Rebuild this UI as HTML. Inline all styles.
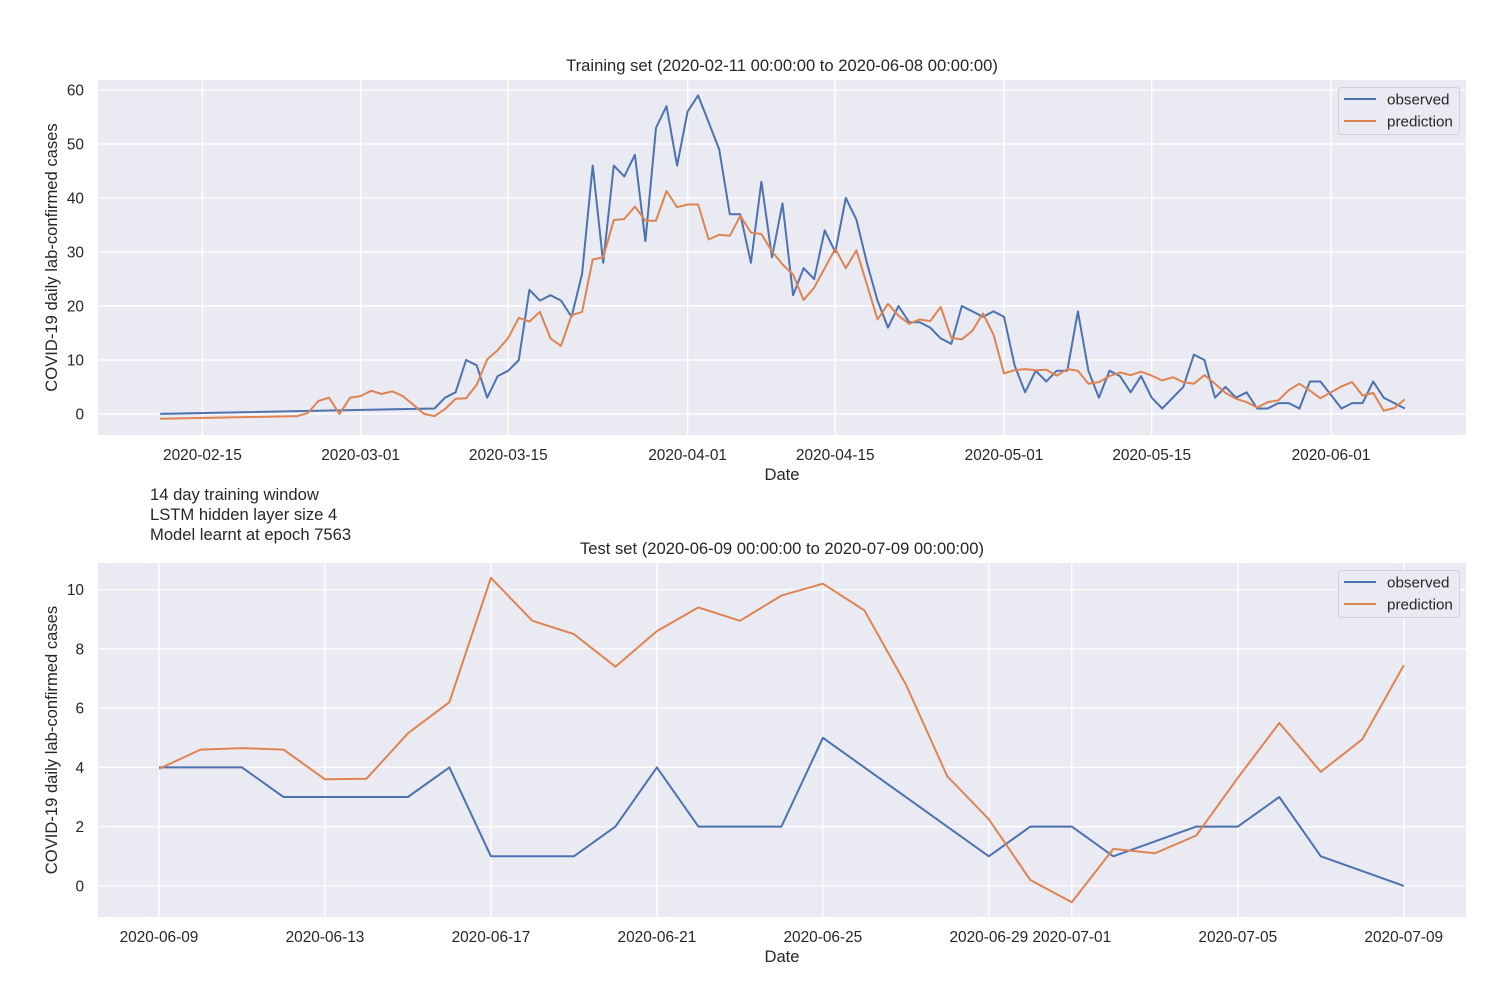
<!DOCTYPE html>
<html><head><meta charset="utf-8"><style>
body{margin:0;background:#fff;}
svg{display:block;font-family:"Liberation Sans","DejaVu Sans",sans-serif;}
</style></head><body>
<svg id="chart" width="1500" height="1000"></svg>
<script>
// ---- Training set data (day offsets from 2020-02-11) ----
const trainObsDays = [0,26,27,28,29,30,31,32,33,34,35,36,37,38,39,40,41,42,43,44,45,46,47,48,49,50,51,52,53,54,55,56,57,58,59,60,61,62,63,64,65,66,67,68,69,70,71,72,73,74,75,76,77,78,79,80,81,82,83,84,85,86,87,88,89,90,91,92,93,94,95,96,97,98,99,100,101,102,103,104,105,106,107,108,109,110,111,112,113,114,115,116,117,118];
const trainObsVals = [0,1,3,4,10,9,3,7,8,10,23,21,22,21,18,26,46,28,46,44,48,32,53,57,46,56,59,54,49,37,37,28,43,29,39,22,27,25,34,30,40,36,28,21,16,20,17,17,16,14,13,20,19,18,19,18,9,4,8,6,8,8,19,8,3,8,7,4,7,3,1,3,5,11,10,3,5,3,4,1,1,2,2,1,6,6,3.5,1,2,2,6,3,2,1];
const trainPredDays = [0,13,14,15,16,17,18,19,20,21,22,23,24,25,26,27,28,29,30,31,32,33,34,35,36,37,38,39,40,41,42,43,44,45,46,47,48,49,50,51,52,53,54,55,56,57,58,59,60,61,62,63,64,65,66,67,68,69,70,71,72,73,74,75,76,77,78,79,80,81,82,83,84,85,86,87,88,89,90,91,92,93,94,95,96,97,98,99,100,101,102,103,104,105,106,107,108,109,110,111,112,113,114,115,116,117,118];
const trainPredVals = [-0.9,-0.4,0.2,2.4,3,0,3,3.3,4.3,3.7,4.2,3.3,1.7,0,-0.4,0.9,2.8,2.9,5.4,10.1,11.8,14.1,17.8,17.1,18.9,14,12.6,18.3,18.9,28.6,29,35.9,36.1,38.4,35.8,35.8,41.3,38.3,38.8,38.8,32.3,33.2,33,36.7,33.6,33.3,30.1,27.7,25.8,21.1,23.4,27,30.6,27,30.3,24,17.5,20.4,18.2,16.7,17.5,17.2,19.8,14.1,13.8,15.4,18.6,14.7,7.5,8.1,8.3,8.1,8.2,7.1,8.3,8,5.6,5.9,7,7.7,7.2,7.8,7.1,6.2,6.8,5.9,5.6,7.2,5.6,3.9,2.8,2.2,1.2,2.2,2.5,4.4,5.6,4.3,2.9,4,5.1,5.9,3.4,3.9,0.6,1.1,2.7];
const trainXTickDays = [4,19,33,50,64,80,94,111];
const trainXTickLabels = ["2020-02-15","2020-03-01","2020-03-15","2020-04-01","2020-04-15","2020-05-01","2020-05-15","2020-06-01"];
const trainYTicks = [0,10,20,30,40,50,60];
// ---- Test set data (day offsets from 2020-06-09) ----
const testObsDays = [0,1,2,3,4,5,6,7,8,9,10,11,12,13,14,15,16,20,21,22,23,25,26,27,28,29,30];
const testObsVals = [4,4,4,3,3,3,3,4,1,1,1,2,4,2,2,2,5,1,2,2,1,2,2,3,1,0.5,0];
const testPredDays = [0,1,2,3,4,5,6,7,8,9,10,11,12,13,14,15,16,17,18,19,20,21,22,23,24,25,26,27,28,29,30];
const testPredVals = [3.95,4.6,4.65,4.6,3.6,3.62,5.15,6.2,10.4,8.95,8.5,7.4,8.6,9.4,8.95,9.8,10.2,9.3,6.8,3.7,2.25,0.2,-0.55,1.25,1.1,1.7,3.65,5.5,3.85,4.95,7.45];
const testXTickDays = [0,4,8,12,16,20,22,26,30];
const testXTickLabels = ["2020-06-09","2020-06-13","2020-06-17","2020-06-21","2020-06-25","2020-06-29","2020-07-01","2020-07-05","2020-07-09"];
const testYTicks = [0,2,4,6,8,10];

const NS="http://www.w3.org/2000/svg";
const svg=document.getElementById('chart');
function mk(tag,attrs,parent){const e=document.createElementNS(NS,tag);for(const k in attrs)e.setAttribute(k,attrs[k]);(parent||svg).appendChild(e);return e;}
function txt(s,attrs,parent){const e=mk('text',attrs,parent);e.textContent=s;return e;}

function panel(cfg){
  const g=mk('g',{});
  
  
  const {x0,x1,y0,y1,dmin,dmax,vmin,vmax}=cfg;
  const X=d=>x0+(d-dmin)/(dmax-dmin)*(x1-x0);
  const Y=v=>y1-(v-vmin)/(vmax-vmin)*(y1-y0);
  const bg=mk('rect',{x:x0,y:y0,width:x1-x0,height:y1-y0,fill:'#eaeaf2'},g);
  
  
  cfg.yTicks.forEach(v=>{
    const l=mk('line',{x1:x0,x2:x1,y1:Y(v),y2:Y(v),stroke:'#fff','stroke-width':1.3},g);
    
    
    const t=txt(String(v),{x:x0-14,y:Y(v)+5.5,'text-anchor':'end','font-size':15.4,fill:'#262626'},g);
    
    
  });
  cfg.xTickDays.forEach((d,i)=>{
    const l=mk('line',{x1:X(d),x2:X(d),y1:y0,y2:y1,stroke:'#fff','stroke-width':1.3},g);
    
    
    const t=txt(cfg.xTickLabels[i],{x:X(d),y:y1+25,'text-anchor':'middle','font-size':15.4,fill:'#262626'},g);
    
    
  });
  const series=[[cfg.obsDays,cfg.obsVals,'#4c72b0','observed-line'],[cfg.predDays,cfg.predVals,'#dd8452','prediction-line']];
  series.forEach(([ds,vs,c,n])=>{
    const p=mk('polyline',{points:ds.map((d,i)=>X(d).toFixed(1)+','+Y(vs[i]).toFixed(1)).join(' '),fill:'none',stroke:c,'stroke-width':2,'stroke-linejoin':'round'},g);
    
    
  });
  const tt=txt(cfg.title,{x:(x0+x1)/2,y:y0-9,'text-anchor':'middle','font-size':16.6,fill:'#262626'},g);
  
  
  const xl=txt('Date',{x:(x0+x1)/2,y:y1+45,'text-anchor':'middle','font-size':16.6,fill:'#262626'},g);
  
  
  const cy=(y0+y1)/2;
  const yl=txt('COVID-19 daily lab-confirmed cases',{x:57,y:cy,'text-anchor':'middle','font-size':16.6,fill:'#262626',transform:`rotate(-90 57 ${cy})`},g);
  
  
  // legend
  const lg=mk('g',{},g);
  
  
  const ly=y0+7;
  mk('rect',{x:1338.5,y:ly+0.5,width:121,height:47,rx:3,fill:'#eaeaf2',stroke:'#d0d0d8','stroke-width':1},lg);
  [['observed','#4c72b0'],['prediction','#dd8452']].forEach(([n,c],i)=>{
    const e=mk('g',{},lg);
    
    
    mk('line',{x1:1344,x2:1376,y1:ly+12+i*22,y2:ly+12+i*22,stroke:c,'stroke-width':2},e);
    txt(n,{x:1387,y:ly+17.5+i*22,'font-size':15.2,fill:'#262626'},e);
  });
}

panel({name:'training-chart',x0:98,x1:1466,y0:80,y1:435,dmin:-5.9,dmax:123.8,vmin:-3.9,vmax:61.85,
  yTicks:trainYTicks,xTickDays:trainXTickDays,xTickLabels:trainXTickLabels,
  obsDays:trainObsDays,obsVals:trainObsVals,predDays:trainPredDays,predVals:trainPredVals,
  title:'Training set (2020-02-11 00:00:00 to 2020-06-08 00:00:00)'});
panel({name:'test-chart',x0:98,x1:1466,y0:563,y1:917,dmin:-1.47,dmax:31.5,vmin:-1.05,vmax:10.9,
  yTicks:testYTicks,xTickDays:testXTickDays,xTickLabels:testXTickLabels,
  obsDays:testObsDays,obsVals:testObsVals,predDays:testPredDays,predVals:testPredVals,
  title:'Test set (2020-06-09 00:00:00 to 2020-07-09 00:00:00)'});

const ann=['14 day training window','LSTM hidden layer size 4','Model learnt at epoch 7563'];
ann.forEach((s,i)=>{
  const t=txt(s,{x:150,y:500+i*20,'font-size':16.6,fill:'#262626'});
  
  
});
</script>
</body></html>
